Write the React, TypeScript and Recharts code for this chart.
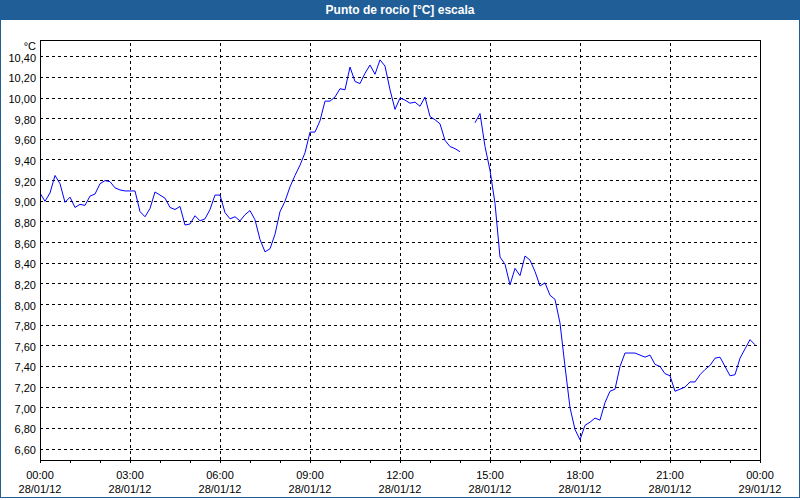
import React from 'react';
import { LineChart, Line, XAxis, YAxis, CartesianGrid, ReferenceLine } from 'recharts';

// Dew point readings every 10 minutes from 00:00 (28/01/12); null = no reading
const dewPoint: (number | null)[] = [
  9.08, 9.00, 9.08, 9.25, 9.17, 8.99, 9.04, 8.94, 8.97, 8.96,
  9.05, 9.07, 9.17, 9.20, 9.19, 9.13, 9.11, 9.10, 9.10, 9.10,
  8.90, 8.85, 8.93, 9.09, 9.06, 9.03, 8.94, 8.92, 8.95, 8.77,
  8.78, 8.86, 8.81, 8.83, 8.92, 9.06, 9.06, 8.89, 8.83, 8.85,
  8.81, 8.87, 8.91, 8.82, 8.63, 8.51, 8.54, 8.68, 8.90, 9.00,
  9.14, 9.25, 9.35, 9.47, 9.67, 9.67, 9.78, 9.97, 9.97, 10.01,
  10.09, 10.08, 10.30, 10.16, 10.14, 10.24, 10.32, 10.23, 10.37, 10.31,
  10.08, 9.89, 10.00, 9.98, 9.95, 9.96, 9.92, 10.01, 9.82, 9.79,
  9.75, 9.59, 9.53, 9.51, 9.48, null, null, 9.76, 9.85, 9.53,
  9.30, 8.98, 8.46, 8.39, 8.19, 8.35, 8.28, 8.47, 8.43, 8.32,
  8.18, 8.21, 8.09, 8.05, 7.82, 7.40, 7.00, 6.79, 6.69, 6.83,
  6.86, 6.90, 6.88, 7.05, 7.16, 7.18, 7.40, 7.53, 7.53, 7.53,
  7.51, 7.49, 7.51, 7.42, 7.40, 7.33, 7.31, 7.16, 7.18, 7.20,
  7.25, 7.25, 7.32, 7.37, 7.41, 7.48, 7.49, 7.40, 7.31, 7.32,
  7.48, 7.57, 7.66, 7.61,
];
const stepMinutes = 10;

const majorTicks = [0, 180, 360, 540, 720, 900, 1080, 1260, 1440];
const majorTimeLabels = ['00:00', '03:00', '06:00', '09:00', '12:00', '15:00', '18:00', '21:00', '00:00'];
const majorDateLabels = ['28/01/12', '28/01/12', '28/01/12', '28/01/12', '28/01/12', '28/01/12', '28/01/12', '28/01/12', '29/01/12'];
const hourTicks = [0, 60, 120, 180, 240, 300, 360, 420, 480, 540, 600, 660, 720, 780, 840, 900, 960, 1020, 1080, 1140, 1200, 1260, 1320, 1380, 1440];
const yTicks = [6.6, 6.8, 7.0, 7.2, 7.4, 7.6, 7.8, 8.0, 8.2, 8.4, 8.6, 8.8, 9.0, 9.2, 9.4, 9.6, 9.8, 10.0, 10.2, 10.4];
const yMin = 6.494;
const yMax = 10.562;
const title = 'Punto de rocío [°C] escala';
const unit = '°C';

const data = dewPoint.map((v, i) => ({ t: i * stepMinutes, v }));

const FONT = '"Liberation Sans", Arial, sans-serif';
const BLUE = '#1f5e96';

const XTick = (props: any) => {
  const { x, payload } = props;
  const idx = majorTicks.indexOf(payload.value);
  if (idx < 0) return <g />;
  return (
    <g>
      <text x={x} y={479} textAnchor="middle" fontSize={11} fontFamily={FONT} fill="#000">
        {majorTimeLabels[idx]}
      </text>
      <text x={x} y={493} textAnchor="middle" fontSize={11} fontFamily={FONT} fill="#000">
        {majorDateLabels[idx]}
      </text>
    </g>
  );
};

const YTick = (props: any) => {
  const { y, payload } = props;
  return (
    <text x={36} y={y + 5} textAnchor="end" fontSize={11} fontFamily={FONT} fill="#000">
      {payload.value.toFixed(2).replace('.', ',')}
    </text>
  );
};

export default function App() {
  return (
    <div style={{ position: 'absolute', left: 0, top: 0, width: 800, height: 500, background: '#fff', fontFamily: FONT }}>
      <div
        style={{
          position: 'absolute', left: 0, top: 0, width: 800, height: 498,
          boxSizing: 'border-box', border: `1px solid ${BLUE}`,
        }}
      />
      <div
        style={{
          position: 'absolute', left: 0, top: 0, width: 800, height: 20, background: BLUE,
          color: '#fff', fontWeight: 'bold', fontSize: 12, lineHeight: '20px', textAlign: 'center',
        }}
      >
        {title}
      </div>
      <div style={{ position: 'absolute', left: 0, top: 0 }}>
        <LineChart width={800} height={500} data={data} margin={{ top: 40, right: 40, left: 0, bottom: 0 }}>
          <CartesianGrid vertical={false} stroke="#000" strokeDasharray="3 3" shapeRendering="crispEdges" />
          {majorTicks.slice(1, -1).map((t) => (
            <ReferenceLine key={t} x={t} stroke="#000" strokeDasharray="3 3" shapeRendering="crispEdges" />
          ))}
          <ReferenceLine y={yMax} stroke="#000" shapeRendering="crispEdges" />
          <ReferenceLine x={1440} stroke="#000" shapeRendering="crispEdges" />
          <XAxis
            dataKey="t"
            type="number"
            domain={[0, 1440]}
            ticks={hourTicks}
            interval={0}
            height={40}
            tickSize={3}
            tickLine={{ stroke: '#000', shapeRendering: 'crispEdges' }}
            axisLine={{ stroke: '#000', shapeRendering: 'crispEdges' }}
            tick={<XTick />}
            allowDataOverflow
          />
          <YAxis
            type="number"
            domain={[yMin, yMax]}
            ticks={yTicks}
            interval={0}
            width={40}
            tickLine={false}
            axisLine={{ stroke: '#000', shapeRendering: 'crispEdges' }}
            tick={<YTick />}
            allowDataOverflow
            label={{
              content: () => (
                <text x={36} y={50} textAnchor="end" fontSize={11} fontFamily={FONT} fill="#000">
                  {unit}
                </text>
              ),
            }}
          />
          <Line
            type="linear"
            dataKey="v"
            stroke="#0000ff"
            strokeWidth={1}
            dot={false}
            activeDot={false}
            connectNulls={false}
            isAnimationActive={false}
          />
        </LineChart>
      </div>
    </div>
  );
}
